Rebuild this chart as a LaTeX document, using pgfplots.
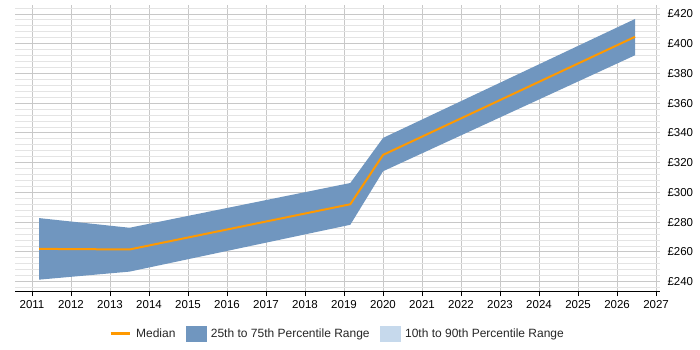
\documentclass[border=0pt]{standalone}
\usepackage{pgfplots}
\pgfplotsset{compat=1.18}
\usepackage{fontspec}
\setmainfont{Liberation Sans}
\definecolor{band}{RGB}{112,150,191}
\definecolor{bandlight}{RGB}{198,217,236}
\definecolor{med}{RGB}{255,153,0}
\definecolor{majgrid}{RGB}{200,200,200}
\definecolor{mingrid}{RGB}{228,228,228}
\pgfplotsset{
  medleg/.style={legend image code/.code={\draw[med, line width=3pt] (0pt,0pt) -- (19pt,0pt);}},
  bandleg/.style={legend image code/.code={\fill[band] (0pt,-7.5pt) rectangle (20pt,7.5pt);}},
  lightleg/.style={legend image code/.code={\fill[bandlight] (0pt,-7.5pt) rectangle (20pt,7.5pt);}},
}
\begin{document}
\begin{tikzpicture}[x=1pt,y=1pt]
\path[use as bounding box] (0,0) rectangle (700,350);
\begin{axis}[
  at={(15pt,58pt)}, anchor=south west,
  scale only axis, width=645pt, height=287pt,
  xmin=2010.564, xmax=2027.1, ymin=233, ymax=426,
  axis x line=bottom, axis y line=right,
  y axis line style={draw=none},
  x axis line style={black, line width=1pt, -},
  xtick={2011,...,2027},
  xticklabels={2011,2012,2013,2014,2015,2016,2017,2018,2019,2020,2021,2022,2023,2024,2025,2026,2027},
  ytick={240,260,...,420},
  yticklabels={£240,£260,£280,£300,£320,£340,£360,£380,£400,£420},
  minor ytick={236,244,248,252,256,264,268,272,276,284,288,292,296,304,308,312,316,324,328,332,336,344,348,352,356,364,368,372,376,384,388,392,396,404,408,412,416,424},
  grid=both,
  major grid style={majgrid, line width=0.8pt},
  minor grid style={mingrid, line width=0.8pt},
  xtick align=outside, major tick length=4pt,
  x tick style={black, line width=0.6pt},
  y tick style={draw=none}, minor y tick style={draw=none},
  tick label style={font=\fontsize{11.5}{13}\selectfont, text=black},
  xticklabel style={yshift=-1pt},
  yticklabel style={xshift=2pt},
  legend style={at={(rel axis cs:0.5,-0.146)}, anchor=center, draw=none, fill=none,
    font=\fontsize{12}{14}\selectfont, text=black!85,
    nodes={inner xsep=2pt},
    /tikz/every odd column/.append style={column sep=3pt},
    /tikz/every even column/.append style={column sep=8pt}},
  legend columns=3,
  legend cell align=left,
]
\addplot[draw=none, fill=band, forget plot]
  coordinates {(2011.18,282.7) (2013.5,276.2) (2019.16,306.3) (2020.0,336.6) (2026.46,416.6)
               (2026.46,392.2) (2020.0,314.2) (2019.16,278.2) (2013.5,246.7) (2011.18,241.3)} -- cycle;
\addplot[med, line width=2pt, mark=none, forget plot]
  coordinates {(2011.18,262.0) (2013.5,261.6) (2019.16,292.0) (2020.0,325.2) (2026.46,404.6)};
\addlegendimage{medleg}
\addlegendentry{Median}
\addlegendimage{bandleg}
\addlegendentry{25th to 75th Percentile Range}
\addlegendimage{lightleg}
\addlegendentry{10th to 90th Percentile Range}
\end{axis}
\end{tikzpicture}
\end{document}
